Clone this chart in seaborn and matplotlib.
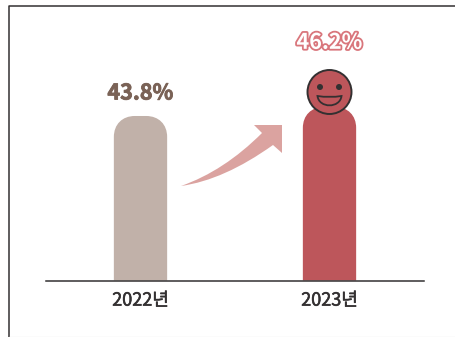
import matplotlib
matplotlib.use("Agg")
import matplotlib.patheffects as pe
import matplotlib.pyplot as plt
import pandas as pd
import seaborn as sns
from matplotlib.lines import Line2D
from matplotlib.patches import Circle, PathPatch
from matplotlib.path import Path
from matplotlib.transforms import Affine2D

years = ["2022년", "2023년"]
shares = [43.8, 46.2]
share_labels = ["43.8%", "46.2%"]
bar_colors = ["#c1b1a9", "#bd565b"]

W, H = 456, 337
DARK = "#333031"

sns.set_theme(style="white")
plt.rcParams["font.family"] = ["Noto Sans CJK KR", "DejaVu Sans"]

# reference pixels (y down) -> display
px = Affine2D().scale(1, -1).translate(0, H)


def rounded_top(x0, x1, top, bottom, r):
    k = 0.6 * r
    verts = [
        (x0, bottom), (x0, top + r),
        (x0, top + r - k), (x0 + r - k, top), (x0 + r, top),
        (x1 - r, top),
        (x1 - r + k, top), (x1, top + r - k), (x1, top + r),
        (x1, bottom), (x0, bottom),
    ]
    codes = [Path.MOVETO, Path.LINETO,
             Path.CURVE4, Path.CURVE4, Path.CURVE4,
             Path.LINETO,
             Path.CURVE4, Path.CURVE4, Path.CURVE4,
             Path.LINETO, Path.CLOSEPOLY]
    return Path(verts, codes)


fig = plt.figure(figsize=(W / 100, H / 100), dpi=100, facecolor="white")
ax = fig.add_axes([46 / W, (H - 280.5) / H, 378 / W, 275.5 / H])

df = pd.DataFrame({"year": years, "share": shares})
sns.barplot(data=df, x="year", y="share", hue="year", palette=bar_colors,
            width=0.282, saturation=1, legend=False, ax=ax)
ax.set_xlim(-0.5, 1.5)
ax.set_ylim(0, 73.35)
ax.set_xlabel("")
ax.set_ylabel("")
ax.set_yticks([])
ax.tick_params(axis="x", length=0, pad=8, labelsize=13, labelcolor=DARK)
for tick in ax.get_xticklabels():
    tick.set_path_effects([pe.withStroke(linewidth=0.4, foreground=DARK)])
sns.despine(ax=ax, left=True)
ax.spines["bottom"].set_color(DARK)
ax.spines["bottom"].set_linewidth(1.1)
ax.spines["bottom"].set_zorder(5)
ax.patch.set_alpha(0)

# swap each bar for a shape with rounded top, same geometry
for bar in list(ax.patches):
    (x0, y0), (x1, y1) = ax.transData.transform(
        [(bar.get_x(), 0), (bar.get_x() + bar.get_width(), bar.get_height())])
    bar.set_visible(False)
    ax.add_artist(PathPatch(rounded_top(x0, x1, H - y1, H - y0, 21), transform=px,
                            facecolor=bar.get_facecolor(), edgecolor="none", zorder=2))

# value labels
ax.annotate(share_labels[0], (0, shares[0]), xytext=(0, 9), textcoords="offset points",
            ha="center", va="bottom", fontsize=15.5, fontweight="bold", color="#7a6256",
            path_effects=[pe.withStroke(linewidth=0.6, foreground="#7a6256")])
ax.annotate(share_labels[1], (1, shares[1]), xytext=(0, 39), textcoords="offset points",
            ha="center", va="bottom", fontsize=15.5, fontweight="bold", color="white",
            path_effects=[pe.withStroke(linewidth=2.6, foreground="#d9767c")])

# arrow
arrow = Path(
    [(181, 186), (224, 180), (273, 145), (282, 153), (282, 125), (254, 125), (262, 133),
     (224, 171), (181, 186), (181, 186)],
    [Path.MOVETO, Path.CURVE3, Path.CURVE3, Path.LINETO, Path.LINETO, Path.LINETO,
     Path.LINETO, Path.CURVE3, Path.CURVE3, Path.CLOSEPOLY])
fig.add_artist(PathPatch(arrow, transform=px, facecolor="#dba3a0", edgecolor="none"))

# smiley
fig.add_artist(Circle((329.5, 92), 22, transform=px, facecolor=bar_colors[1],
                      edgecolor=DARK, linewidth=1.4))
for ex in (320, 339):
    fig.add_artist(Circle((ex, 87), 3, transform=px, facecolor=DARK, edgecolor="none"))
mouth = Path(
    [(317.5, 96), (329.5, 98), (341.5, 96), (340, 108.5), (319, 108.5), (317.5, 96),
     (317.5, 96)],
    [Path.MOVETO, Path.CURVE3, Path.CURVE3, Path.CURVE4, Path.CURVE4, Path.CURVE4,
     Path.CLOSEPOLY])
fig.add_artist(PathPatch(mouth, transform=px, facecolor=bar_colors[1], edgecolor=DARK,
                         linewidth=1.3))

# frame of the screenshot
fig.add_artist(Line2D([8.5, 8.5, W], [H, 5.5, 5.5], transform=px, color=DARK, linewidth=1.1))
fig.add_artist(Line2D([9, W], [336.5, 336.5], transform=px, color="#eeeeee", linewidth=1))

fig.savefig("out.png", dpi=100)
